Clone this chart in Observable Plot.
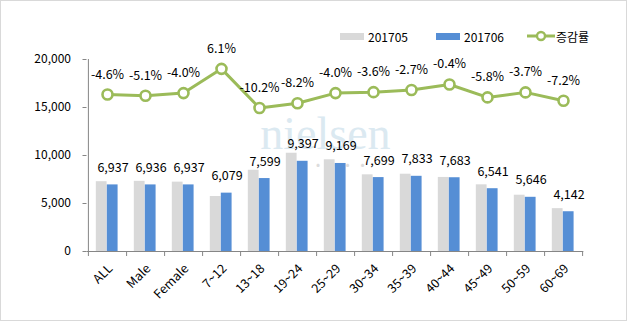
<!DOCTYPE html>
<html>
<head>
<meta charset="utf-8">
<script src="https://cdn.jsdelivr.net/npm/d3@7"></script>
<script src="https://cdn.jsdelivr.net/npm/@observablehq/plot@0.6"></script>
<style>
  html, body { margin: 0; padding: 0; background: #fff; }
  #wrap { position: relative; width: 630px; height: 322px; overflow: hidden; font-family: "Noto Sans CJK KR", "Noto Sans", sans-serif; }
  #border { position: absolute; left: 0; top: 0; width: 627px; height: 321px; box-sizing: border-box; border: 1px solid #d9d9d9; pointer-events: none; }
  #chart { position: absolute; left: 0; top: 0; }
  #legend { position: absolute; left: 0; top: 26px; width: 630px; height: 20px; font-size: 12px; color: #000; }
  .item { position: absolute; top: 0; height: 20px; display: flex; align-items: center; }
  .sw { width: 24px; height: 7px; margin-right: 4px; }
</style>
</head>
<body>
<div id="wrap">
  <div id="chart"></div>
  <div id="legend"></div>
  <div id="border"></div>
</div>
<script>
// ---- data ----
const categories = ["ALL", "Male", "Female", "7~12", "13~18", "19~24", "25~29", "30~34", "35~39", "40~44", "45~49", "50~59", "60~69"];
const v201705 = [7272, 7309, 7226, 5730, 8462, 10236, 9551, 7987, 8050, 7714, 6944, 5863, 4463];
const v201706 = [6937, 6936, 6937, 6079, 7599, 9397, 9169, 7699, 7833, 7683, 6541, 5646, 4142];
const changePct = [-4.6, -5.1, -4.0, 6.1, -10.2, -8.2, -4.0, -3.6, -2.7, -0.4, -5.8, -3.7, -7.2];
const yTicks = [0, 5000, 10000, 15000, 20000];
const yDomain = [0, 20000];
const pctDomain = [-70, 10]; // hidden secondary axis for 증감률
const seriesNames = ["201705", "201706", "증감률"];

// ---- build ----
const colors = { gray: "#D9D9D9", blue: "#558ED5", green: "#9BBB59", axis: "#868686" };
const data = categories.map((c, i) => ({ cat: c, v05: v201705[i], v06: v201706[i], pct: changePct[i] }));
// map secondary (%) axis onto primary value axis
const toPrimary = p => yDomain[0] + (p - pctDomain[0]) / (pctDomain[1] - pctDomain[0]) * (yDomain[1] - yDomain[0]);

const W = 630, H = 322, mL = 86.5, mR = 46.7, mT = 59, mB = 71;
const bw = (W - mL - mR) / categories.length;
const font = "'Noto Sans CJK KR', 'Noto Sans', sans-serif";

const chart = Plot.plot({
  width: W, height: H,
  marginLeft: mL, marginRight: mR, marginTop: mT, marginBottom: mB,
  style: { fontFamily: font, fontSize: "12px", color: "#000", background: "transparent", overflow: "visible" },
  x: { domain: categories, padding: 0, axis: null },
  y: { domain: yDomain, axis: null },
  marks: [
    // watermark
    Plot.text(["nielsen"], { frameAnchor: "middle", dx: -10, dy: -21, fontSize: 46, fontFamily: "'Liberation Serif', 'DejaVu Serif', serif", fill: "#dbe9f1" }),
    Plot.text(["•    •    •    •    •    •"], { frameAnchor: "middle", dx: -10, dy: 10, fontSize: 12, fill: "#dcdcdc" }),
    // bars
    Plot.barY(data, { x: "cat", y: "v05", fill: colors.gray, insetLeft: 7.8, insetRight: bw - 18.8 }),
    Plot.barY(data, { x: "cat", y: "v06", fill: colors.blue, insetLeft: 18.8, insetRight: bw - 29.8 }),
    // axes
    Plot.ruleY([0], { stroke: colors.axis }),
    Plot.ruleX([categories[0]], { y1: yDomain[1], y2: yDomain[0], dx: -bw / 2, insetBottom: -5, stroke: colors.axis }),
    Plot.ruleX(categories, { y1: 0, y2: 0, dx: bw / 2, insetBottom: -5, stroke: colors.axis }),
    Plot.axisY({ ticks: yTicks, tickFormat: d3.format(","), tickSize: 4, tickPadding: 12, stroke: colors.axis, fill: "#000", label: null, fontSize: 12 }),
    Plot.axisX({ tickRotate: -45, tickSize: 0, tickPadding: 15, dx: 3, fill: "#000", label: null, fontSize: 12.5 }),
    // value labels
    Plot.text(data, { x: "cat", y: "v06", text: d => d3.format(",")(d.v06), dx: 5.5, dy: -17, fontSize: 12.5, fill: "#000" }),
    // change line
    Plot.line(data, { x: "cat", y: d => toPrimary(d.pct), stroke: colors.green, strokeWidth: 3 }),
    Plot.dot(data, { x: "cat", y: d => toPrimary(d.pct), r: 5, stroke: colors.green, strokeWidth: 2.6, fill: "#fff" }),
    Plot.text(data, { x: "cat", y: d => toPrimary(d.pct), text: d => d.pct.toFixed(1) + "%", dy: -20, fontSize: 12.5, fill: "#000" })
  ]
});
document.getElementById("chart").appendChild(chart);

// legend
const legend = document.getElementById("legend");
const items = [
  { name: seriesNames[0], left: 340, type: "bar", color: colors.gray },
  { name: seriesNames[1], left: 436, type: "bar", color: colors.blue },
  { name: seriesNames[2], left: 527, type: "line", color: colors.green }
];
for (const it of items) {
  const d = document.createElement("div");
  d.className = "item";
  d.style.left = it.left + "px";
  if (it.type === "bar") {
    d.innerHTML = `<span class="sw" style="background:${it.color}"></span><span>${it.name}</span>`;
  } else {
    d.innerHTML = `<svg width="28" height="12" style="margin-right:1px"><line x1="0" x2="28" y1="6" y2="6" stroke="${it.color}" stroke-width="3"/><circle cx="14" cy="6" r="4" fill="#fff" stroke="${it.color}" stroke-width="2.4"/></svg><span>${it.name}</span>`;
  }
  legend.appendChild(d);
}
</script>
</body>
</html>
